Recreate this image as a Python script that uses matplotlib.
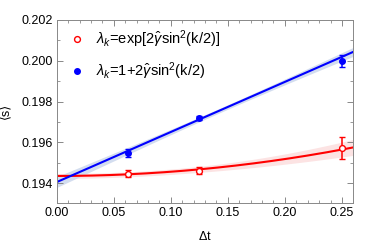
import numpy as np
import matplotlib
matplotlib.use("Agg")
import matplotlib.pyplot as plt
from matplotlib.ticker import MultipleLocator, FormatStrFormatter

plt.rcParams['font.family'] = ['Liberation Sans', 'DejaVu Sans']
plt.rcParams['mathtext.fontset'] = 'custom'
plt.rcParams['mathtext.rm'] = 'Liberation Sans'
plt.rcParams['mathtext.it'] = 'Liberation Sans:italic'

# data
dt = [0.0625, 0.125, 0.25]
s_exp = [0.19448, 0.19462, 0.19572]
e_exp = [0.00018, 0.00018, 0.00055]
s_lin = [0.19548, 0.19720, 0.20000]
e_lin = [0.00018, 0.00010, 0.00030]

# fit parameters
lin_a, lin_b = 0.19406, 0.02454          # a + b*t
lin_sa, lin_sb, lin_tm = 0.00011, 0.00165, 0.145
exp_a, exp_c = 0.19436, 0.0207           # a + c*t^2
exp_sa, exp_sc = 0.00012, 0.0055

labels = [r'$\lambda_k$=exp[2$\hat{\gamma}$sin$^2$(k/2)]',
          r'$\lambda_k$=1+2$\hat{\gamma}$sin$^2$(k/2)']

fig = plt.figure(figsize=(3.74, 2.43), dpi=100)
ax = fig.add_axes([0.1516, 0.1658, 0.7931, 0.7519])

t = np.linspace(0, 0.26, 200)
lin_fit = lin_a + lin_b * t
lin_band = np.sqrt(lin_sa**2 + ((t - lin_tm) * lin_sb)**2)
exp_fit = exp_a + exp_c * t**2
exp_band = np.sqrt(exp_sa**2 + (t**2 * exp_sc)**2)

ax.fill_between(t, exp_fit - exp_band, exp_fit + exp_band, color='#fce3e3', lw=0)
ax.fill_between(t, lin_fit - lin_band, lin_fit + lin_band, color='#d3ddef', lw=0)
ax.plot(t, exp_fit, color='#ff0000', lw=1.5)
ax.plot(t, lin_fit, color='#0000ff', lw=1.5)

ax.errorbar(dt, s_exp, yerr=e_exp, fmt='o', color='#ff0000', mfc='white', mec='#ff0000',
            ms=4.2, mew=1.0, capsize=2.5, elinewidth=1.1, capthick=1.1, label=labels[0], zorder=5)
ax.errorbar(dt, s_lin, yerr=e_lin, fmt='o', color='#0000ff', mfc='#0000ff', mec='#0000ff',
            ms=4.0, mew=1.0, capsize=2.5, elinewidth=1.1, capthick=1.1, label=labels[1], zorder=5)

ax.set_xlim(0, 0.26)
ax.set_ylim(0.19305, 0.202)
ax.xaxis.set_major_locator(MultipleLocator(0.05))
ax.xaxis.set_minor_locator(MultipleLocator(0.01))
ax.yaxis.set_major_locator(MultipleLocator(0.002))
ax.yaxis.set_minor_locator(MultipleLocator(0.001))
ax.xaxis.set_major_formatter(FormatStrFormatter('%.2f'))
ax.yaxis.set_major_formatter(FormatStrFormatter('%.3f'))
ax.tick_params(which='both', direction='in', top=True, right=True, color='#888888',
               labelsize=9, labelcolor='black', pad=3)
ax.tick_params(which='major', length=4, width=0.7)
ax.tick_params(which='minor', length=2.2, width=0.6)
for sp in ax.spines.values():
    sp.set_color('#888888')
    sp.set_linewidth(0.7)

ax.set_xlabel(r'$\Delta$t', fontsize=9, labelpad=8)
ax.set_ylabel('⟨s⟩', fontsize=9, labelpad=7)

h, l = ax.get_legend_handles_labels()
h = [hh[0] for hh in h]
ax.legend(h, l, loc='upper left', bbox_to_anchor=(0.01, 1.025), frameon=False, fontsize=10.5,
          handlelength=0.6, handletextpad=1.0, labelspacing=0.7, borderaxespad=0.5)

fig.savefig('out.png', dpi=100)
